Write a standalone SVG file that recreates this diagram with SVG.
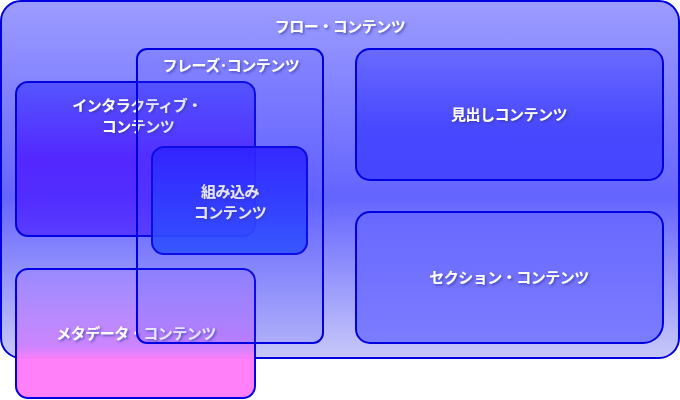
<svg xmlns="http://www.w3.org/2000/svg" width="680" height="400" viewBox="0 0 680 400">
<style>
.b{stroke:#0000e0;stroke-width:2}
text{font-family:"Noto Sans CJK JP","Noto Sans",sans-serif;font-size:15px;font-weight:bold;fill:#fff;text-anchor:middle;filter:url(#sh);letter-spacing:-0.5px}
</style>
<defs>
<filter id="sh" x="-20%" y="-50%" width="140%" height="200%"><feDropShadow dx="1.5" dy="1.5" stdDeviation="1" flood-color="#3030a0" flood-opacity="0.7"/></filter>
<linearGradient id="gf" x1="0" y1="0" x2="0" y2="1"><stop offset="0" stop-color="#9c9cff"/><stop offset="0.55" stop-color="#6464ff"/><stop offset="1" stop-color="#c8c8fa"/></linearGradient>
<linearGradient id="gh" x1="0" y1="0" x2="0" y2="1"><stop offset="0" stop-color="#6a6aff"/><stop offset="0.6" stop-color="#4848ff"/><stop offset="1" stop-color="#4646ff"/></linearGradient>
<linearGradient id="gs" x1="0" y1="0" x2="0" y2="1"><stop offset="0" stop-color="#6868ff"/><stop offset="1" stop-color="#7c7cff"/></linearGradient>
<linearGradient id="gi" x1="0" y1="0" x2="0" y2="1"><stop offset="0" stop-color="#4040ff" stop-opacity="0.7"/><stop offset="0.5" stop-color="#4a10ff" stop-opacity="0.75"/><stop offset="1" stop-color="#4a20ff" stop-opacity="0.7"/></linearGradient>
<linearGradient id="ge" x1="0" y1="0" x2="0" y2="1"><stop offset="0" stop-color="#2a1aff"/><stop offset="1" stop-color="#2a55ff"/></linearGradient>
<linearGradient id="gm" x1="0" y1="0" x2="0" y2="1"><stop offset="0" stop-color="#a080ff" stop-opacity="0.5"/><stop offset="0.6" stop-color="#d070ff" stop-opacity="0.75"/><stop offset="0.7" stop-color="#ff80f8"/><stop offset="1" stop-color="#ff80f8"/></linearGradient>
</defs>
<g id="flow"><rect class="b" x="1" y="1" width="678" height="357" rx="20" fill="url(#gf)"/><text x="340" y="32">フロー・コンテンツ</text></g>
<g id="heading"><rect class="b" x="356" y="49" width="307" height="131" rx="14" fill="url(#gh)"/><text x="509" y="120">見出しコンテンツ</text></g>
<g id="sectioning"><path class="b" d="M370,212 H649 A14,14 0 0 1 663,226 V323 A20,20 0 0 1 643,343 H370 A14,14 0 0 1 356,329 V226 A14,14 0 0 1 370,212 Z" fill="url(#gs)"/><text x="509" y="283">セクション・コンテンツ</text></g>
<g id="interactive"><rect class="b" x="16" y="82" width="239" height="154" rx="12" fill="url(#gi)"/><text x="137" y="111">インタラクティブ・</text><text x="138" y="132">コンテンツ</text></g>
<g id="embedded"><rect class="b" x="152" y="147" width="155" height="107" rx="12" fill="url(#ge)" fill-opacity="0.9"/><text x="230" y="197">組み込み</text><text x="230" y="218">コンテンツ</text></g>
<g id="metadata"><rect class="b" x="16" y="269" width="239" height="129" rx="12" fill="url(#gm)"/><text x="136" y="339">メタデータ・コンテンツ</text></g>
<g id="phrasing"><rect class="b" x="137" y="49" width="186" height="294" rx="10" fill="#5050ff" fill-opacity="0.15"/><text x="231" y="71">フレーズ･コンテンツ</text></g>
<g id="connectors"/>
</svg>
